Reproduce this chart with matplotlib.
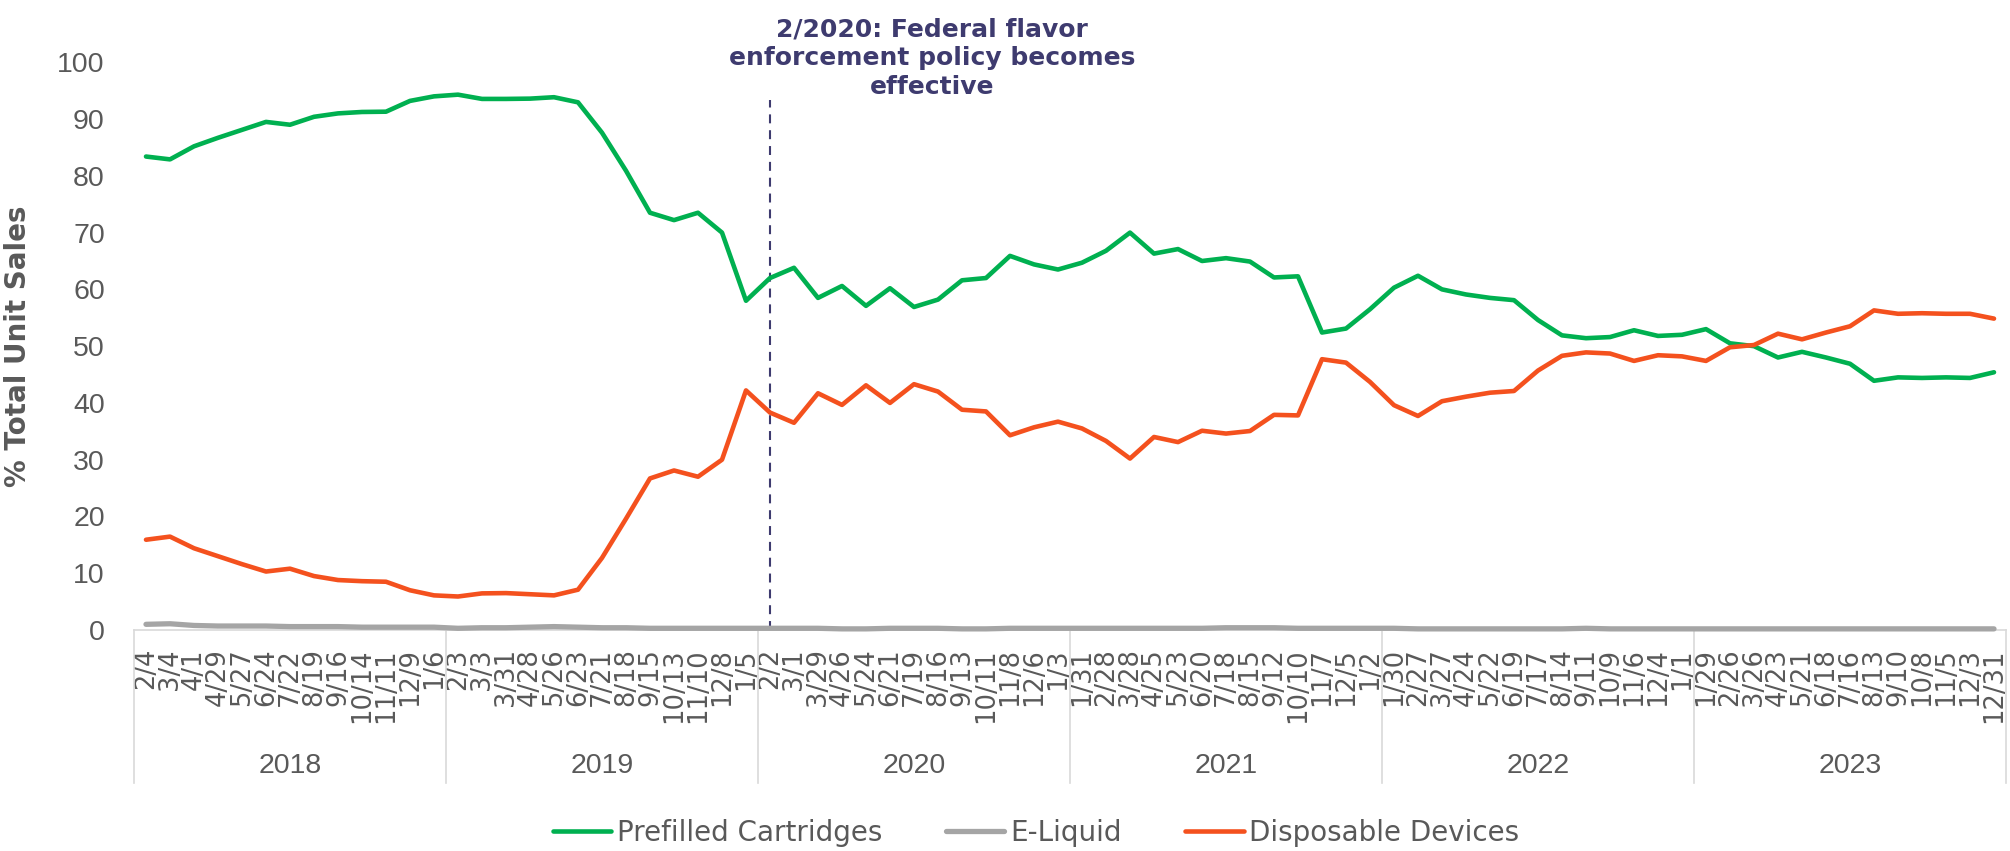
import matplotlib
matplotlib.use("Agg")
import matplotlib.pyplot as plt
import matplotlib.transforms as mtransforms

# 4-week periods, grouped by year
years = ["2018", "2019", "2020", "2021", "2022", "2023"]
periods = [
    "2/4", "3/4", "4/1", "4/29", "5/27", "6/24", "7/22", "8/19", "9/16", "10/14", "11/11", "12/9", "1/6",
    "2/3", "3/3", "3/31", "4/28", "5/26", "6/23", "7/21", "8/18", "9/15", "10/13", "11/10", "12/8", "1/5",
    "2/2", "3/1", "3/29", "4/26", "5/24", "6/21", "7/19", "8/16", "9/13", "10/11", "11/8", "12/6", "1/3",
    "1/31", "2/28", "3/28", "4/25", "5/23", "6/20", "7/18", "8/15", "9/12", "10/10", "11/7", "12/5", "1/2",
    "1/30", "2/27", "3/27", "4/24", "5/22", "6/19", "7/17", "8/14", "9/11", "10/9", "11/6", "12/4", "1/1",
    "1/29", "2/26", "3/26", "4/23", "5/21", "6/18", "7/16", "8/13", "9/10", "10/8", "11/5", "12/3", "12/31",
]

prefilled = [
    83.4, 82.9, 85.2, 86.7, 88.1, 89.5, 89.0, 90.4, 91.0, 91.25, 91.3, 93.2, 94.0,
    94.3, 93.55, 93.55, 93.6, 93.85, 92.95, 87.6, 80.9, 73.5, 72.2, 73.5, 70.0, 58.0,
    62.0, 63.8, 58.5, 60.6, 57.1, 60.2, 56.9, 58.2, 61.6, 62.0, 65.9, 64.4, 63.5,
    64.7, 66.8, 70.0, 66.3, 67.1, 65.0, 65.5, 64.9, 62.1, 62.3, 52.4, 53.1, 56.5,
    60.3, 62.4, 60.0, 59.1, 58.5, 58.1, 54.6, 51.9, 51.4, 51.6, 52.8, 51.8, 52.0,
    53.0, 50.5, 50.0, 48.0, 49.0, 48.0, 46.9, 43.9, 44.5, 44.4, 44.5, 44.4, 45.4,
]
eliquid = [
    1.0, 1.1, 0.8, 0.7, 0.7, 0.7, 0.6, 0.6, 0.6, 0.5, 0.5, 0.5, 0.5,
    0.3, 0.4, 0.4, 0.5, 0.6, 0.5, 0.4, 0.4, 0.3, 0.3, 0.3, 0.3, 0.3,
    0.3, 0.3, 0.3, 0.2, 0.2, 0.3, 0.3, 0.3, 0.2, 0.2, 0.3, 0.3, 0.3,
    0.3, 0.3, 0.3, 0.3, 0.3, 0.3, 0.4, 0.4, 0.4, 0.3, 0.3, 0.3, 0.3,
    0.3, 0.2, 0.2, 0.2, 0.2, 0.2, 0.2, 0.2, 0.3, 0.2, 0.2, 0.2, 0.2,
    0.2, 0.2, 0.2, 0.2, 0.2, 0.2, 0.2, 0.2, 0.2, 0.2, 0.2, 0.2, 0.2,
]
disposable = [
    15.9, 16.45, 14.4, 13.0, 11.6, 10.3, 10.8, 9.5, 8.8, 8.6, 8.5, 7.0, 6.1,
    5.9, 6.45, 6.5, 6.3, 6.1, 7.1, 12.7, 19.6, 26.7, 28.1, 27.0, 30.0, 42.2,
    38.3, 36.5, 41.7, 39.65, 43.1, 40.0, 43.3, 42.0, 38.8, 38.5, 34.3, 35.7, 36.7,
    35.5, 33.3, 30.2, 34.0, 33.1, 35.1, 34.6, 35.05, 37.9, 37.8, 47.7, 47.1, 43.7,
    39.6, 37.7, 40.3, 41.1, 41.8, 42.1, 45.7, 48.3, 48.9, 48.7, 47.4, 48.4, 48.2,
    47.4, 49.8, 50.2, 52.2, 51.2, 52.4, 53.5, 56.3, 55.7, 55.8, 55.7, 55.7, 54.85,
]

policy_idx = periods.index("2/2", 26)

GREEN = "#00B050"
GRAY = "#A5A5A5"
RED = "#F4511E"
TXT = "#595959"
NAVY = "#3E3B6F"
BOX = "#D9D9D9"

plt.rcParams["font.family"] = ["DejaVu Sans"]
NARROW = ["Liberation Sans", "DejaVu Sans"]

W, H = 2010, 851
fig = plt.figure(figsize=(W / 100, H / 100), dpi=100)
ax = fig.add_axes([134 / W, (H - 630) / H, (2006 - 134) / W, (630 - 62.3) / H])

x = list(range(len(periods)))
ax.plot(x, prefilled, color=GREEN, lw=3.3, solid_capstyle="round",
        solid_joinstyle="round", label="Prefilled Cartridges", clip_on=False, zorder=3)
ax.plot(x, eliquid, color=GRAY, lw=3.8, solid_capstyle="round",
        solid_joinstyle="round", label="E-Liquid", clip_on=False, zorder=3)
ax.plot(x, disposable, color=RED, lw=3.3, solid_capstyle="round",
        solid_joinstyle="round", label="Disposable Devices", clip_on=False, zorder=3)

ax.set_xlim(-0.5, len(periods) - 0.5)
ax.set_ylim(0, 100)

# policy marker
ax.plot([policy_idx, policy_idx], [0, 93.4], color=NAVY, lw=1.5,
        linestyle=(0, (4.3, 3.3)), zorder=2)
fig.text(932 / W, 1 - 58 / H, "2/2020: Federal flavor\nenforcement policy becomes\neffective",
         ha="center", va="center", fontsize=18, fontweight="bold", color=NAVY,
         linespacing=1.25)

for s in ["top", "right", "left"]:
    ax.spines[s].set_visible(False)
ax.spines["bottom"].set_color(BOX)
ax.spines["bottom"].set_linewidth(1.2)

ax.set_yticks(range(0, 101, 10))
ax.tick_params(axis="y", length=0, pad=21, labelsize=20.5, labelcolor=TXT)
for lab in ax.get_yticklabels():
    lab.set_family(NARROW)
ax.set_xticks(x)
ax.set_xticklabels(periods, rotation=90)
ax.tick_params(axis="x", length=0, pad=13, labelsize=18.5, labelcolor=TXT)

ax.set_ylabel("% Total Unit Sales", fontsize=20, fontweight="bold", color=TXT)
ax.yaxis.set_label_coords((32 - 134) / 1872, (630 - 346) / (630 - 62.3))

# year grouping box
trans = mtransforms.blended_transform_factory(ax.transData, ax.transAxes)
box_bottom = -(783 - 630) / (630 - 62.3)
for k in range(len(years) + 1):
    xd = -0.5 + 13 * k
    ax.plot([xd, xd], [0, box_bottom], color=BOX, lw=1.2, transform=trans, clip_on=False)
for k, yr in enumerate(years):
    ax.text(6 + 13 * k, -(766 - 630) / (630 - 62.3), yr, transform=trans,
            ha="center", va="center", fontsize=20.5, color=TXT, family=NARROW)

fig.legend(loc="center", bbox_to_anchor=(1036 / W, 1 - 833 / H), ncol=3, frameon=False,
           fontsize=20, handlelength=2.1, handletextpad=0.2, columnspacing=2.3,
           labelcolor=TXT)

fig.savefig("out.png", dpi=100)
